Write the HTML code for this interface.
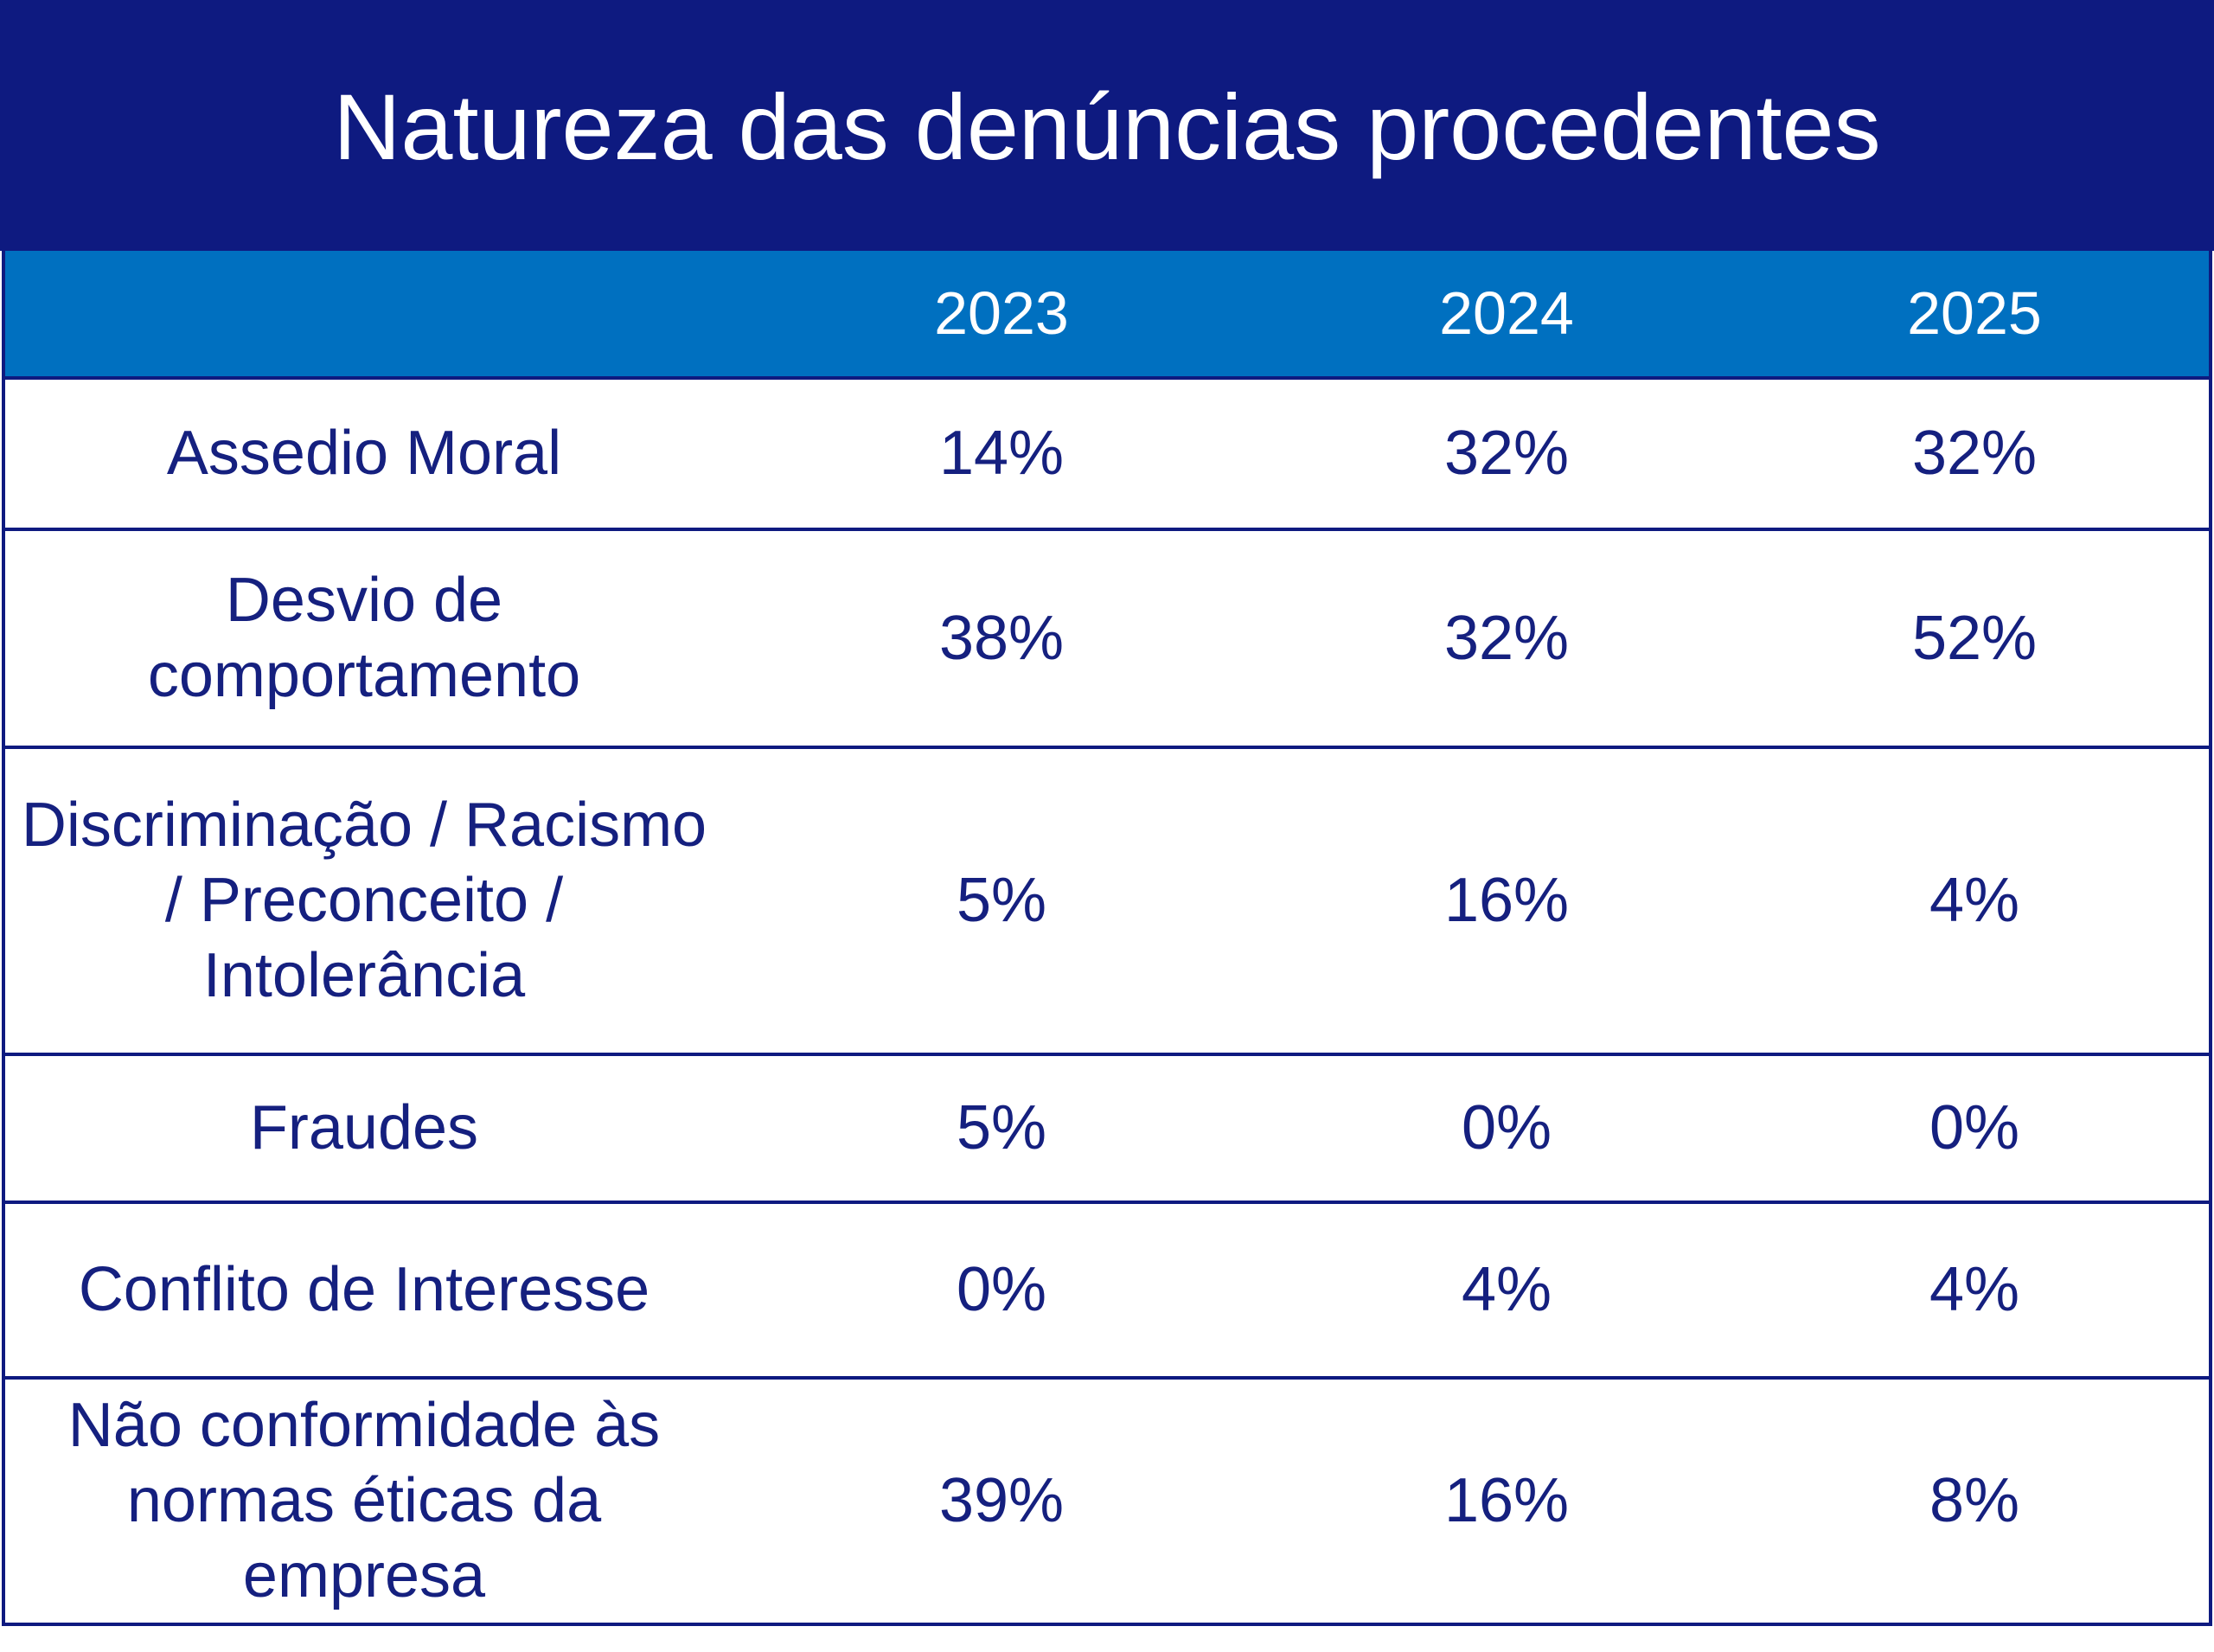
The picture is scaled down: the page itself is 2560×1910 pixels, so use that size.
<!DOCTYPE html>
<html><head><meta charset="utf-8"><style>
html,body{margin:0;padding:0;background:#fff;}
body{width:2560px;height:1910px;position:relative;overflow:hidden;font-family:"Liberation Sans",sans-serif;}
.title{position:absolute;left:0;top:0;width:2560px;height:290px;background:#0e1a80;color:#fff;font-size:108px;line-height:290px;text-align:center;}
.title span{position:relative;top:2px;}
.hdr{position:absolute;left:2px;top:290px;width:2556px;height:145px;background:#0070c0;border-left:4px solid #0e1a80;border-right:4px solid #0e1a80;box-sizing:border-box;}
.cell{position:absolute;display:flex;align-items:center;justify-content:center;text-align:center;color:#15207f;font-size:72px;line-height:87px;}
.hcell{color:#fff;font-size:70px;}
.line{position:absolute;left:2px;width:2556px;height:4px;background:#0e1a80;}
.vl{position:absolute;top:435px;width:4px;height:1445px;background:#0e1a80;}
</style></head><body>
<div class="title"><span>Natureza das denúncias procedentes</span></div>
<div class="hdr"></div>
<div class="cell hcell" style="left:958px;width:400px;top:290px;height:145px">2023</div>
<div class="cell hcell" style="left:1542px;width:400px;top:290px;height:145px">2024</div>
<div class="cell hcell" style="left:2083px;width:400px;top:290px;height:145px">2025</div>

<div class="line" style="top:435px"></div>
<div class="line" style="top:610px"></div>
<div class="line" style="top:862px"></div>
<div class="line" style="top:1217px"></div>
<div class="line" style="top:1388px"></div>
<div class="line" style="top:1591px"></div>
<div class="line" style="top:1876px"></div>
<div class="vl" style="left:2px"></div>
<div class="vl" style="left:2554px"></div>

<div class="cell" style="left:6px;width:830px;top:439px;height:171px">Assedio Moral</div>
<div class="cell" style="left:958px;width:400px;top:439px;height:171px">14%</div>
<div class="cell" style="left:1542px;width:400px;top:439px;height:171px">32%</div>
<div class="cell" style="left:2083px;width:400px;top:439px;height:171px">32%</div>

<div class="cell" style="left:6px;width:830px;top:614px;height:248px">Desvio de<br>comportamento</div>
<div class="cell" style="left:958px;width:400px;top:614px;height:248px">38%</div>
<div class="cell" style="left:1542px;width:400px;top:614px;height:248px">32%</div>
<div class="cell" style="left:2083px;width:400px;top:614px;height:248px">52%</div>

<div class="cell" style="left:6px;width:830px;top:866px;height:351px">Discriminação / Racismo<br>/ Preconceito /<br>Intolerância</div>
<div class="cell" style="left:958px;width:400px;top:866px;height:351px">5%</div>
<div class="cell" style="left:1542px;width:400px;top:866px;height:351px">16%</div>
<div class="cell" style="left:2083px;width:400px;top:866px;height:351px">4%</div>

<div class="cell" style="left:6px;width:830px;top:1221px;height:167px">Fraudes</div>
<div class="cell" style="left:958px;width:400px;top:1221px;height:167px">5%</div>
<div class="cell" style="left:1542px;width:400px;top:1221px;height:167px">0%</div>
<div class="cell" style="left:2083px;width:400px;top:1221px;height:167px">0%</div>

<div class="cell" style="left:6px;width:830px;top:1392px;height:199px">Conflito de Interesse</div>
<div class="cell" style="left:958px;width:400px;top:1392px;height:199px">0%</div>
<div class="cell" style="left:1542px;width:400px;top:1392px;height:199px">4%</div>
<div class="cell" style="left:2083px;width:400px;top:1392px;height:199px">4%</div>

<div class="cell" style="left:6px;width:830px;top:1595px;height:281px">Não conformidade às<br>normas éticas da<br>empresa</div>
<div class="cell" style="left:958px;width:400px;top:1595px;height:281px">39%</div>
<div class="cell" style="left:1542px;width:400px;top:1595px;height:281px">16%</div>
<div class="cell" style="left:2083px;width:400px;top:1595px;height:281px">8%</div>
</body></html>
